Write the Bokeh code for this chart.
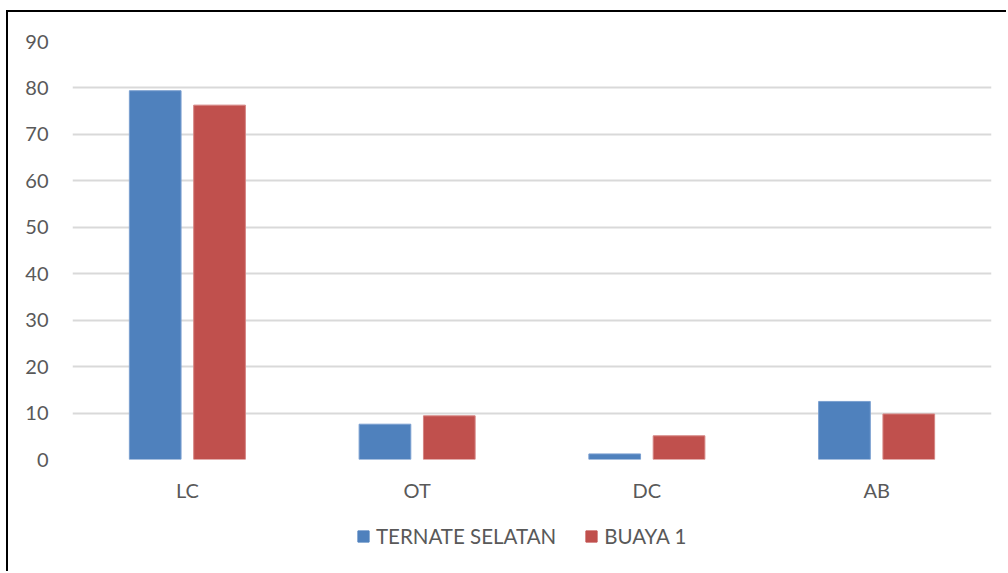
from bokeh.plotting import figure
from bokeh.layouts import column
from bokeh.models import ColumnDataSource, FactorRange, Range1d, Legend, LegendItem, FixedTicker
from bokeh.transform import dodge
from bokeh.embed import file_html
from bokeh.resources import INLINE

categories = ["LC", "OT", "DC", "AB"]
ternate_selatan = [79.4, 7.6, 1.2, 12.5]
buaya_1 = [76.3, 9.4, 5.1, 9.8]
series_names = ["TERNATE SELATAN", "BUAYA 1"]
colors = ["#4F81BD", "#C0504D"]
y_ticks = [0, 10, 20, 30, 40, 50, 60, 70, 80, 90]

source = ColumnDataSource(data=dict(cat=categories, ts=ternate_selatan, b1=buaya_1))

FONT = "Lato"
TXT = "#595959"

p = figure(
    x_range=FactorRange(factors=categories, range_padding=0),
    y_range=Range1d(0, 90),
    width=998, height=497,
    output_backend="svg", toolbar_location=None,
    min_border_left=64, min_border_right=15, min_border_top=29, min_border_bottom=50,
)
p.outline_line_color = None
p.background_fill_color = "white"
p.border_fill_color = "white"

r1 = p.vbar(x=dodge("cat", -0.14, range=p.x_range), top="ts", width=0.225, source=source,
            fill_color=colors[0], line_color="#7A9FD0", line_width=1)
r2 = p.vbar(x=dodge("cat", 0.14, range=p.x_range), top="b1", width=0.225, source=source,
            fill_color=colors[1], line_color="#D58583", line_width=1)

p.xgrid.grid_line_color = None
p.ygrid.grid_line_color = "#D9D9D9"
p.ygrid.grid_line_width = 2

p.yaxis.ticker = FixedTicker(ticks=y_ticks)
for ax in (p.xaxis[0], p.yaxis[0]):
    ax.axis_line_color = None
    ax.major_tick_line_color = None
    ax.minor_tick_line_color = None
    ax.major_tick_out = 0
    ax.major_tick_in = 0
    ax.major_label_text_font = FONT
    ax.major_label_text_font_size = "20px"
    ax.major_label_text_color = TXT
p.yaxis.major_label_standoff = 24
p.xaxis.major_label_standoff = 18

# legend-only strip below the chart
q = figure(
    x_range=p.x_range, y_range=Range1d(0, 1),
    width=998, height=62,
    output_backend="svg", toolbar_location=None,
    min_border=0,
)
q.outline_line_color = None
q.xaxis.visible = False
q.yaxis.visible = False
q.grid.visible = False
q.border_fill_color = "white"
l1 = q.vbar(x="cat", top="ts", width=0.2, source=source, fill_color=colors[0], line_color=colors[0])
l2 = q.vbar(x="cat", top="b1", width=0.2, source=source, fill_color=colors[1], line_color=colors[1])
l1.visible = False
l2.visible = False

legend = Legend(items=[LegendItem(label=series_names[0], renderers=[l1]),
                       LegendItem(label=series_names[1], renderers=[l2])],
                orientation="horizontal", location=(284, 23))
legend.label_text_font = FONT
legend.label_text_font_size = "20.5px"
legend.label_text_color = TXT
legend.glyph_width = 14
legend.glyph_height = 14
legend.label_height = 20
legend.label_standoff = 6
legend.spacing = 28
legend.margin = 0
legend.padding = 0
legend.border_line_color = None
legend.background_fill_alpha = 0
q.add_layout(legend, "center")

layout = column(p, q, spacing=0)
layout.styles = {"border-left": "2px solid black", "border-top": "2px solid black",
                 "margin-left": "6px", "margin-top": "10px"}

open("out.html", "w").write(file_html(layout, INLINE))
